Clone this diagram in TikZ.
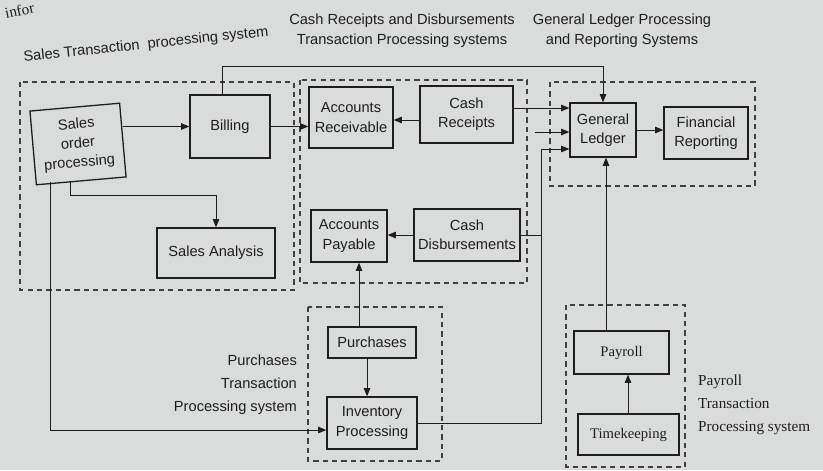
\documentclass[tikz,border=0pt]{standalone}
\usepackage{fontspec}
\setmainfont{Liberation Sans}
\newfontfamily\serifx{Liberation Serif}
\usetikzlibrary{arrows.meta}
\definecolor{bg}{RGB}{218,220,219}
\definecolor{ink}{RGB}{30,30,30}
\tikzset{
  box/.style={draw=ink, line width=1.1pt, inner sep=1pt, align=center, text=ink,
    font=\fontsize{12.5}{16.5}\selectfont},
  region/.style={draw=ink!85, line width=0.9pt, dash pattern=on 4.5pt off 3.5pt},
  conn/.style={draw=ink, line width=0.85pt},
  arr/.style={conn, -{Triangle[length=7pt,width=5.5pt]}},
  title/.style={align=center, text=ink, font=\fontsize{12.5}{17}\selectfont},
}
\begin{document}
\begin{tikzpicture}[x=0.03cm, y=-0.03cm]
\fill[bg] (0,0) rectangle (823,470);
\useasboundingbox (0,0) rectangle (823,470);

% corner fragment
\node[text=ink, rotate=12, anchor=south west, inner sep=0pt, font=\fontsize{13}{15}\selectfont\serifx] (frag) at (6,19) {infor};

% regions
\draw[region] (20,82) rectangle (294,290);
\draw[region] (300,80) rectangle (527,283);
\draw[region] (550,82) rectangle (755,186);
\draw[region] (308,307) rectangle (442,461);
\draw[region] (566,305) rectangle (685,467);

% titles
\node[title, rotate=6] (tsales) at (146,45) {Sales Transaction\ \ processing system};
\node[title] (tcash) at (402,31) {Cash Receipts and Disbursements\\Transaction Processing systems};
\node[title] (tgl) at (622,31) {General Ledger Processing\\and Reporting Systems};
\node[title, align=right, anchor=east, font=\fontsize{12.5}{19.5}\selectfont] (tpur) at (301,385) {Purchases\\Transaction\\Processing system};
\node[align=left, anchor=west, text=ink, font=\fontsize{13}{19.5}\selectfont\serifx] (tpay) at (694,405) {Payroll\\Transaction\\Processing system};

% boxes
\node[box, minimum width=90*0.03cm, minimum height=74*0.03cm, rotate=5] (so) at (78,144) {Sales\\order\\processing};
\node[box, minimum width=80*0.03cm, minimum height=63*0.03cm] (bill) at (230,126.5) {Billing};
\node[box, minimum width=84*0.03cm, minimum height=61*0.03cm] (ar) at (351,117.5) {Accounts\\Receivable};
\node[box, minimum width=93*0.03cm, minimum height=57*0.03cm] (cr) at (466.5,114.5) {Cash\\Receipts};
\node[box, minimum width=66*0.03cm, minimum height=54*0.03cm] (gl) at (603,130) {General\\Ledger};
\node[box, minimum width=84*0.03cm, minimum height=52*0.03cm] (fr) at (706,133) {Financial\\Reporting};
\node[box, minimum width=118*0.03cm, minimum height=50*0.03cm] (sa) at (216,253) {Sales Analysis};
\node[box, minimum width=76*0.03cm, minimum height=52*0.03cm] (ap) at (349,236) {Accounts\\Payable};
\node[box, minimum width=106*0.03cm, minimum height=52*0.03cm] (cd) at (467,235) {Cash\\Disbursements};
\node[box, minimum width=88*0.03cm, minimum height=31*0.03cm] (pu) at (372,342.5) {Purchases};
\node[box, minimum width=90*0.03cm, minimum height=52*0.03cm] (ip) at (372,423) {Inventory\\Processing};
\node[box, minimum width=95*0.03cm, minimum height=43*0.03cm, font=\fontsize{12.5}{16}\selectfont\serifx] (pa) at (621.5,352.5) {Payroll};
\node[box, minimum width=101*0.03cm, minimum height=41*0.03cm, font=\fontsize{12.5}{16}\selectfont\serifx] (tk) at (628.5,434.5) {Timekeeping};

% connectors
\draw[arr] (so.east |- bill.west) -- (bill.west);
\draw[arr] (bill.east) -- (bill.east -| ar.west);
\draw[arr] (cr.west |- 0,120) -- (ar.east |- 0,120);
\draw[arr] (bill.north -| 222,0) -- (222,66) -| (gl.north);
\draw[arr] (gl.east) -- (gl.east -| fr.west);
\draw[arr] (so.south -| 70,0) -- (70,195) -| (sa.north);
\draw[arr] (so.south -| 50,0) -- (50,430) -- (ip.west |- 0,430);
\draw[arr] (cd.west) -- (cd.west -| ap.east);
\draw[arr] (pu.north -| 359,0) -- (ap.south -| 359,0);
\draw[arr] (pu.south -| 367,0) -- (ip.north -| 367,0);
\coordinate (cjoin) at (541,235);
\draw[conn] (cd.east) -- (cjoin);
\draw[arr] (ip.east) -- (541,423) -- (541,149) -- (gl.west |- 0,149);
\draw[arr] (cr.east |- 0,108) -- (gl.west |- 0,108);
\coordinate (glin) at (535,132);
\draw[arr] (glin) -- (gl.west |- glin);
\draw[arr] (pa.north -| 606,0) -- (gl.south -| 606,0);
\draw[arr] (tk.north -| 628,0) -- (pa.south -| 628,0);
\end{tikzpicture}
\end{document}
